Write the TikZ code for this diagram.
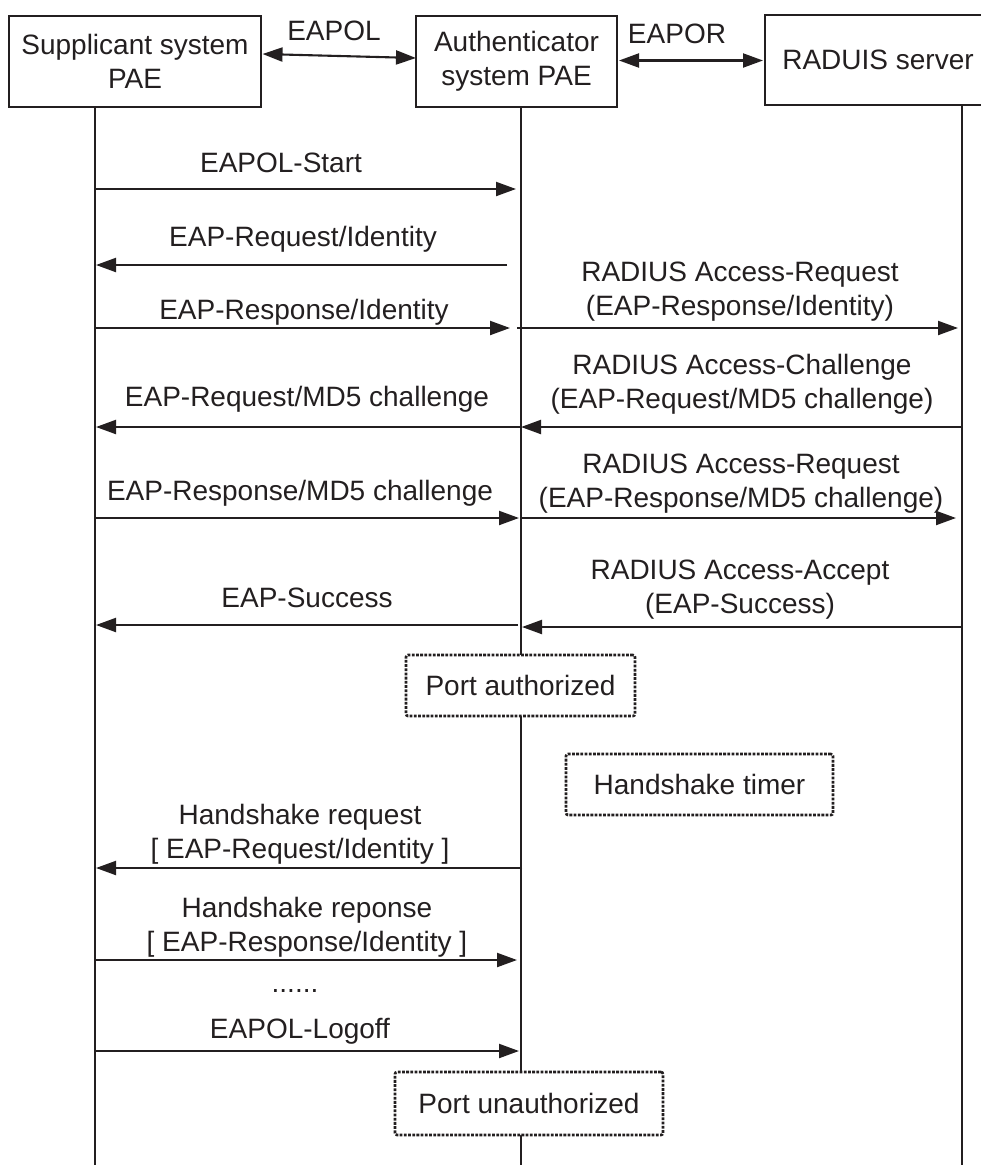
\documentclass[tikz,border=0pt]{standalone}
\usepackage{fontspec}
\setmainfont{Liberation Sans}
\usetikzlibrary{arrows.meta}
\definecolor{ink}{RGB}{35,31,32}
\begin{document}
\begin{tikzpicture}[x=1pt,y=-1pt,
  font=\fontsize{28}{34}\selectfont,
  entity/.style={draw=ink,line width=2pt,fill=white,align=center,inner sep=0pt,text=ink},
  statebox/.style={draw=ink,line width=2.6pt,dash pattern=on 2.8pt off 1.4pt,rounded corners=2pt,fill=white,inner sep=0pt,text=ink},
  lifeline/.style={draw=ink,line width=2pt},
  msg/.style={draw=ink,line width=2.1pt,-{Triangle[length=20pt,width=14pt]}},
  duplex/.style={draw=ink,line width=2.1pt,{Triangle[length=20pt,width=14pt]}-{Triangle[length=20pt,width=14pt]}},
  lbl/.style={anchor=base,align=center,inner sep=0pt,text=ink}]
\useasboundingbox (0,0) rectangle (981,1165);
\clip (0,0) rectangle (981,1165);

% participants
\node[entity,minimum width=252pt,minimum height=91pt] (sup) at (135,61.5) {Supplicant system\\PAE};
\node[entity,minimum width=201pt,minimum height=91pt] (auth) at (516.5,61.5) {Authenticator\\system PAE};
\node[entity,minimum width=226pt,minimum height=90pt,anchor=west] (rad) at (764,60) {RADUIS server};

% lifelines
\coordinate (sTop) at (95,107);  \coordinate (sBot) at (95,1165);
\coordinate (aTop) at (521,107); \coordinate (aBot) at (521,1165);
\coordinate (rTop) at (962,105); \coordinate (rBot) at (962,1165);
\draw[lifeline] (sTop) -- (sBot);
\draw[lifeline] (aTop) -- (aBot);
\draw[lifeline] (rTop) -- (rBot);

% links between the participants
\coordinate (eapolL) at (262.5,54); \coordinate (eapolR) at (416,58);
\draw[duplex] (eapolL) -- (eapolR);
\node[lbl] (eapolT) at (334,40) {EAPOL};
\coordinate (eaporL) at (619,60.5); \coordinate (eaporR) at (763,60.5);
\draw[duplex] (eaporL) -- (eaporR);
\node[lbl] (eaporT) at (677,43) {EAPOR};

% multi-line labels are placed by the baseline of their last line

% EAPOL-Start
\coordinate (m1a) at (95,189); \coordinate (m1b) at (516,189);
\draw[msg] (m1a) -- (m1b);
\node[lbl] (t1) at (281,172) {EAPOL-Start};

% EAP-Request/Identity
\coordinate (m2a) at (507,265); \coordinate (m2b) at (96,265);
\draw[msg] (m2a) -- (m2b);
\node[lbl] (t2) at (303,246) {EAP-Request/Identity};

% EAP-Response/Identity and its RADIUS relay
\coordinate (m3a) at (95,328); \coordinate (m3b) at (510,328);
\draw[msg] (m3a) -- (m3b);
\node[lbl] (t3) at (304,319) {EAP-Response/Identity};
\coordinate (m4a) at (517,328); \coordinate (m4b) at (958,328);
\draw[msg] (m4a) -- (m4b);
\node[lbl] (t4) at (740,315) {RADIUS Access-Request\\(EAP-Response/Identity)};

% MD5 challenge
\coordinate (m6a) at (962,427); \coordinate (m6b) at (521,427);
\draw[msg] (m6a) -- (m6b);
\node[lbl] (t6) at (742,408) {RADIUS Access-Challenge\\(EAP-Request/MD5 challenge)};
\coordinate (m5a) at (521,427); \coordinate (m5b) at (96,427);
\draw[msg] (m5a) -- (m5b);
\node[lbl] (t5) at (307,406) {EAP-Request/MD5 challenge};

% MD5 response
\coordinate (m7a) at (95,518); \coordinate (m7b) at (519,518);
\draw[msg] (m7a) -- (m7b);
\node[lbl] (t7) at (300,500) {EAP-Response/MD5 challenge};
\coordinate (m8a) at (521,518); \coordinate (m8b) at (956,518);
\draw[msg] (m8a) -- (m8b);
\node[lbl] (t8) at (741,507) {RADIUS Access-Request\\(EAP-Response/MD5 challenge)};

% success
\coordinate (m10a) at (962,627); \coordinate (m10b) at (522,627);
\draw[msg] (m10a) -- (m10b);
\node[lbl] (t10) at (740,613) {RADIUS Access-Accept\\(EAP-Success)};
\coordinate (m9a) at (518,625); \coordinate (m9b) at (96,625);
\draw[msg] (m9a) -- (m9b);
\node[lbl] (t9) at (307,607) {EAP-Success};

% port states and timer
\node[statebox,minimum width=229pt,minimum height=61pt] (auth1) at (520.5,685.5) {Port authorized};
\node[statebox,minimum width=267pt,minimum height=61pt] (timer) at (699.5,784.5) {Handshake timer};

% handshake
\coordinate (m11a) at (522,868); \coordinate (m11b) at (96,868);
\draw[msg] (m11a) -- (m11b);
\node[lbl] (t11) at (300,858) {Handshake request\\{[} EAP-Request/Identity ]};
\coordinate (m12a) at (95,960); \coordinate (m12b) at (517,960);
\draw[msg] (m12a) -- (m12b);
\node[lbl] (t12) at (307,951) {Handshake reponse\\{[} EAP-Response/Identity ]};
\node[lbl] (dots) at (295,992) {......};

% logoff
\coordinate (m13a) at (95,1051); \coordinate (m13b) at (519,1051);
\draw[msg] (m13a) -- (m13b);
\node[lbl] (t13) at (300,1038) {EAPOL-Logoff};
\node[statebox,minimum width=268pt,minimum height=63pt] (auth2) at (529,1103.5) {Port unauthorized};
\end{tikzpicture}
\end{document}
